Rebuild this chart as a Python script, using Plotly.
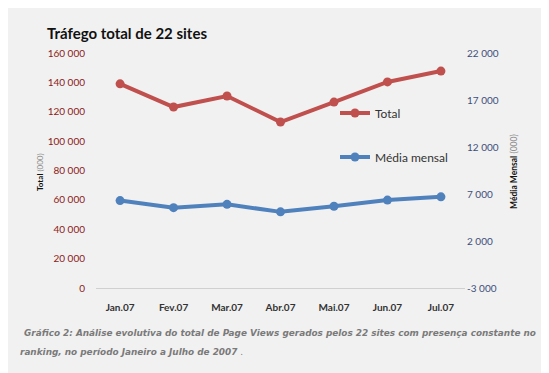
import plotly.graph_objects as go

months = ["Jan.07", "Fev.07", "Mar.07", "Abr.07", "Mai.07", "Jun.07", "Jul.07"]
total = [139000, 123200, 130700, 113000, 126600, 140300, 147700]
media = [6300, 5550, 5900, 5100, 5700, 6350, 6700]

left_ticks = [0, 20000, 40000, 60000, 80000, 100000, 120000, 140000, 160000]
right_ticks = [-3000, 2000, 7000, 12000, 17000, 22000]
right_tick_labels = ["-3 000", "2 000", "7 000", "12 000", "17 000", "22 000"]

RED = "#c0504d"
BLUE = "#4f81bd"

# the page body adds an 8px offset; figure coordinates below are page - 8
W, H = 541, 365
L, R, T, B = 88, 84, 45, 85
PW, PH = W - L - R, H - T - B

def px(x):
    return (x - L) / PW

def py(y):
    return 1 - (y - T) / PH

fig = go.Figure()
fig.add_trace(go.Scatter(
    x=months, y=total, name="Total", mode="lines+markers",
    line=dict(color=RED, width=4), marker=dict(size=9, color=RED),
    yaxis="y", legend="legend",
))
fig.add_trace(go.Scatter(
    x=months, y=media, name="Média mensal", mode="lines+markers",
    line=dict(color=BLUE, width=4), marker=dict(size=9, color=BLUE),
    yaxis="y2", legend="legend2",
))

fig.update_layout(
    width=W, height=H,
    paper_bgcolor="#f1f1f1", plot_bgcolor="rgba(0,0,0,0)",
    margin=dict(l=L, r=R, t=T, b=B, autoexpand=False),
    separators=", ",
    font=dict(family="Lato", color="#333333"),
    title=dict(text="Tráfego total de 22 sites", x=39/W, xanchor="left",
               y=1-26/H, yanchor="middle", automargin=False,
               font=dict(family="Lato", size=15, color="#111111", weight="bold")),
    xaxis=dict(showgrid=False, showline=True, linecolor="#d0d0d0", linewidth=1,
               ticks="", tickfont=dict(size=10, color="#333333", weight="bold"),
               ticklabelstandoff=10,
               zeroline=False, anchor="y", automargin=False),
    yaxis=dict(range=[0, 160000], tickvals=left_ticks, tickformat=",d",
               showgrid=False, zeroline=False, showline=False, automargin=False,
               tickfont=dict(size=10, color="#8b1a1a"), ticklabelstandoff=10),
    yaxis2=dict(range=[-3000, 22000], tickvals=right_ticks, ticktext=right_tick_labels,
                overlaying="y", side="right", showgrid=False, zeroline=False,
                showline=False, tickfont=dict(size=10, color="#3c4f7a"),
                ticklabelstandoff=1, automargin=False),
    legend=dict(x=327/W, y=1-105/H, xref="container", yref="container",
                xanchor="left", yanchor="middle",
                bgcolor="rgba(0,0,0,0)", font=dict(size=12, color="#333333"),
                itemwidth=30),
    legend2=dict(x=327/W, y=1-149/H, xref="container", yref="container",
                 xanchor="left", yanchor="middle",
                 bgcolor="rgba(0,0,0,0)", font=dict(size=12, color="#333333"),
                 itemwidth=30),
    showlegend=True,
)

# axis titles
fig.add_annotation(
    text="<b>Total</b> <span style='color:#888'>(000)</span>",
    xref="paper", yref="paper", x=px(32), y=py(164), textangle=-90,
    xanchor="center", yanchor="middle", showarrow=False,
    font=dict(family="Lato", size=8, color="#111111"))
fig.add_annotation(
    text="<b>Média Mensal</b> <span style='color:#888'>(000)</span>",
    xref="paper", yref="paper", x=px(506), y=py(164), textangle=-90,
    xanchor="center", yanchor="middle", showarrow=False,
    font=dict(family="Lato", size=8.5, color="#111111"))

fig.add_annotation(
    text="<b><i>Gráfico 2: Análise evolutiva do total de Page Views gerados pelos 22 sites com presença constante no</i></b>",
    xref="paper", yref="paper", x=px(14), y=py(325),
    xanchor="left", yanchor="middle", showarrow=False,
    font=dict(family="DejaVu Sans", size=8.9, color="#7a7a7a"))
fig.add_annotation(
    text="<b><i>ranking, no período Janeiro a Julho de 2007</i></b> .",
    xref="paper", yref="paper", x=px(10), y=py(344),
    xanchor="left", yanchor="middle", showarrow=False,
    font=dict(family="DejaVu Sans", size=8.9, color="#7a7a7a"))

fig.write_html("out.html")
